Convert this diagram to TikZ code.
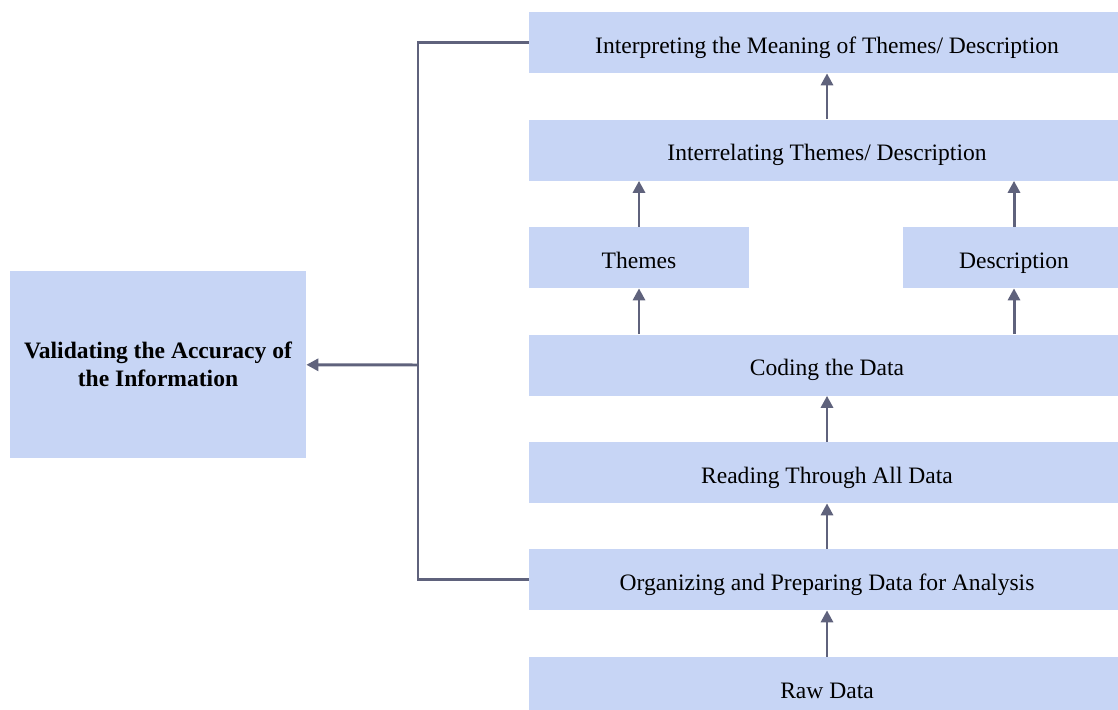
\documentclass[tikz,border=0pt]{standalone}
\usepackage{fontspec}
\setmainfont{Liberation Serif}
\usepackage{xcolor}
\usetikzlibrary{arrows.meta}
\usetikzlibrary{positioning}
\usetikzlibrary{calc}
\definecolor{boxblue}{HTML}{C7D5F5}
\definecolor{linegray}{HTML}{5F627C}
\tikzset{>=latex}

\begin{document}
\begin{tikzpicture}[
        stage/.style={fill=boxblue, minimum height=1.22cm, inner sep=0pt, font=\fontsize{13.4}{16}\selectfont},
        oneline/.style={stage, text height=12pt, text depth=0pt},
        widestage/.style={oneline, minimum width=11.92cm},
        link/.style={draw=linegray, line width=1.7pt},
        flow/.style={link, -{Triangle[length=0.24cm, width=0.24cm]}}
    ]

    %=== Canvas ===%
    \useasboundingbox (0,0) rectangle (22.36,-14.2);

    %=== Main column ===%
    \node[widestage] (interpret) at (16.54,-0.85) {Interpreting the Meaning of Themes/ Description};
    \node[widestage] (interrelate) at (16.54,-3.0) {Interrelating Themes/ Description};
    \node[oneline, minimum width=4.4cm] (themes) at (12.78,-5.15) {Themes};
    \node[oneline, minimum width=4.44cm] (descr) at (20.28,-5.15) {Description};
    \node[widestage] (coding) at (16.54,-7.3) {Coding the Data};
    \node[widestage] (reading) at (16.54,-9.45) {Reading Through All Data};
    \node[widestage] (organize) at (16.54,-11.59) {Organizing and Preparing Data for Analysis};
    \node[widestage] (raw) at (16.54,-13.75) {Raw Data};

    %=== Side box ===%
    \node[stage, minimum width=5.92cm, minimum height=3.74cm, align=center,
        font=\fontsize{13.4}{16}\selectfont\bfseries] (validate) at (3.16,-7.29)
        {Validating the Accuracy of\\the Information};

    % arrows up the column
    \draw[flow] (raw) -- (organize);
    \draw[flow] (organize) -- (reading);
    \draw[flow] (reading) -- (coding);
    \draw[flow] (coding.north -| themes) -- (themes);
    \draw[flow] (coding.north -| descr) -- (descr);
    \draw[flow] (themes) -- (themes |- interrelate.south);
    \draw[flow] (descr) -- (descr |- interrelate.south);
    \draw[flow] (interrelate) -- (interpret);

    % validation bracket
    \coordinate (bus) at (8.36,-7.3);
    \draw[link] (organize.west) -| (bus) |- (interpret.west);
    \draw[flow] (bus) -- (validate);
\end{tikzpicture}
\end{document}
